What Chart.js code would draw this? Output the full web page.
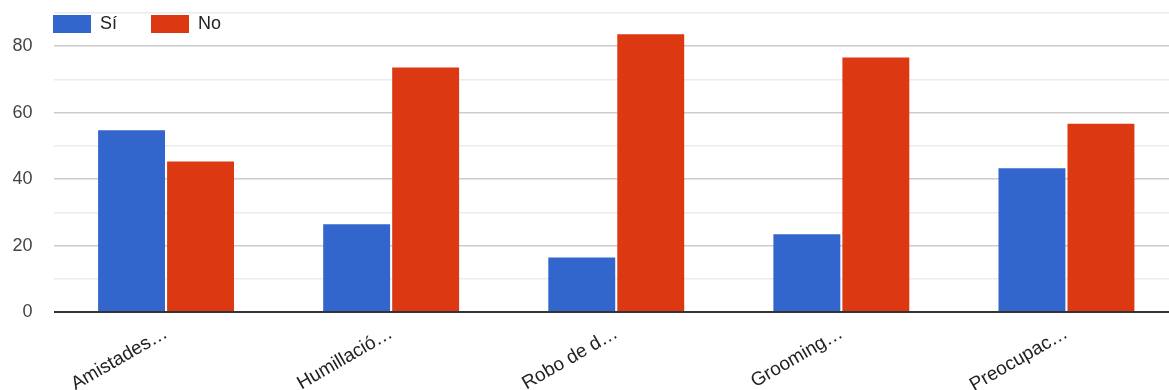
<!DOCTYPE html>
<html lang="es">
<head>
<meta charset="utf-8">
<title>Sí / No</title>
<script src="https://cdn.jsdelivr.net/npm/chart.js@4.4.1/dist/chart.umd.min.js"></script>
<style>
  html, body { margin: 0; padding: 0; background: #fff; overflow: hidden; }
  #wrap { width: 1169px; height: 390px; overflow: hidden; position: relative; }
  canvas { display: block; }
</style>
</head>
<body>
<div id="wrap"><canvas id="c" width="1180" height="390"></canvas></div>
<script>
// Categories (labels are shortened with an ellipsis)
const categories = ['Amistades…', 'Humillació…', 'Robo de d…', 'Grooming…', 'Preocupac…'];
// Series values
const siValues = [54.7, 26.4, 16.4, 23.4, 43.3];
const noValues = [45.3, 73.6, 83.6, 76.6, 56.7];
const seriesNames = ['Sí', 'No'];
// Y axis range and labelled ticks
const yMin = 0;
const yMax = 90;
const yStep = 10;
const yLabelled = [0, 20, 40, 60, 80];

const FONT = '"Liberation Sans", Arial, sans-serif';

// The legend overlays the top left of the plot: it takes no layout height
// and is nudged into place once the layout is done.
const legendOverlay = {
  id: 'legendOverlay',
  beforeLayout(chart) {
    const lg = chart.legend;
    if (lg && !lg._overlayPatched) {
      const fit = lg.fit;
      lg.fit = function () { fit.call(this); this.height = 0; };
      lg._overlayPatched = true;
    }
  },
  afterLayout(chart) {
    const lg = chart.legend;
    if (!lg) return;
    lg.left += 19; lg.right += 19;
    lg.top -= 32;
    lg.height = 80;
    lg.bottom = lg.top + lg.height;
  }
};

new Chart(document.getElementById('c'), {
  type: 'bar',
  data: {
    labels: categories,
    datasets: [
      { label: seriesNames[0], data: siValues, backgroundColor: '#3366cc', borderWidth: 0 },
      { label: seriesNames[1], data: noValues, backgroundColor: '#dc3912', borderWidth: 0 }
    ]
  },
  options: {
    responsive: false,
    animation: false,
    layout: { padding: { top: 13, right: 1, left: 0, bottom: 0 } },
    datasets: { bar: { categoryPercentage: 0.613, barPercentage: 0.97 } },
    plugins: {
      tooltip: { enabled: false },
      legend: {
        position: 'top',
        align: 'start',
        labels: {
          boxWidth: 38,
          boxHeight: 18,
          padding: 34,
          color: '#222',
          font: { family: FONT, size: 18 }
        }
      }
    },
    scales: {
      x: {
        grid: { display: false, drawTicks: false },
        border: { display: false },
        ticks: {
          minRotation: 30,
          maxRotation: 30,
          autoSkip: false,
          padding: 10,
          color: '#222',
          font: { family: FONT, size: 19 }
        },
        afterFit(axis) {
          axis.height = 78;
          axis.paddingLeft = 0; axis.paddingRight = 0;
        }
      },
      y: {
        min: yMin,
        max: yMax,
        border: { display: false },
        grid: {
          drawTicks: false,
          color: (ctx) => {
            const v = ctx.tick.value;
            if (v === 0) return '#333';
            return yLabelled.includes(v) ? '#cccccc' : '#ebebeb';
          },
          lineWidth: (ctx) => ctx.tick.value === 0 ? 2 : 1.5
        },
        ticks: {
          stepSize: yStep,
          padding: 21,
          color: '#444',
          font: { family: FONT, size: 18 },
          callback: (v) => yLabelled.includes(v) ? String(v) : ''
        },
        afterFit(axis) {
          axis.width = 53.5;
          axis.paddingTop = 0; axis.paddingBottom = 0;
        }
      }
    }
  },
  plugins: [legendOverlay]
});
</script>
</body>
</html>
